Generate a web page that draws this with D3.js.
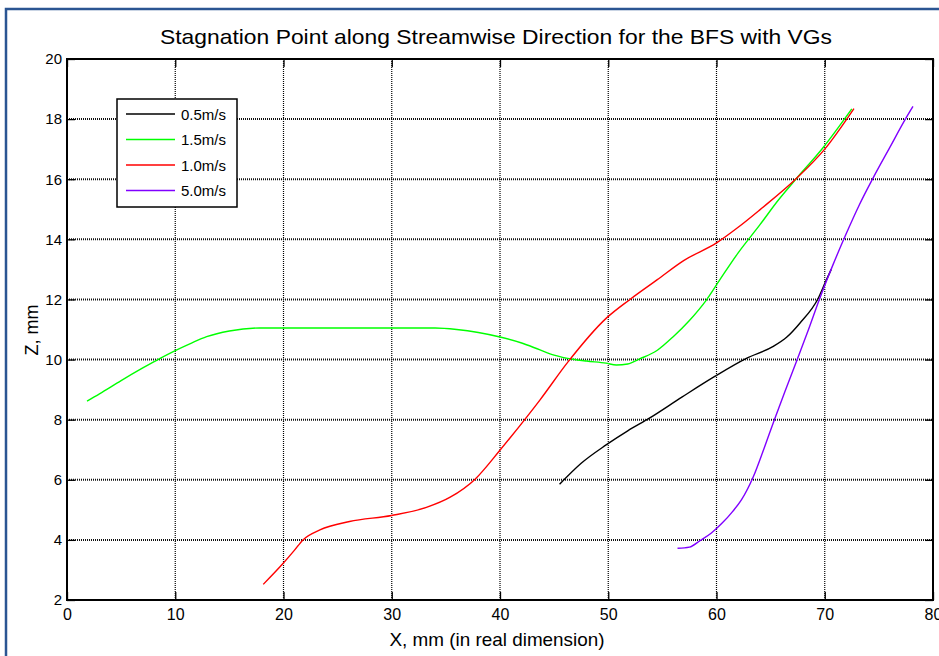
<!DOCTYPE html>
<html>
<head>
<meta charset="utf-8">
<script src="https://cdn.jsdelivr.net/npm/d3@7"></script>
<style>
  html, body { margin: 0; padding: 0; background: #fff; }
  svg { display: block; }
  text { font-family: "Liberation Sans", Arial, sans-serif; fill: #000; }
</style>
</head>
<body>
<svg id="chart" width="939" height="656"></svg>
<script>
// Stagnation point position (x, z) in mm for each free-stream speed
const seriesNames = ["0.5m/s", "1.5m/s", "1.0m/s", "5.0m/s"];
const seriesColors = ["#000000", "#00ff00", "#ff0000", "#8000ff"];

const black05 = [[45.5,5.85],[47.5,6.55],[49.8,7.16],[51.8,7.63],[53.8,8.05],[56.8,8.75],[59.8,9.43],
  [62.76,10.04],[65.2,10.43],[66.5,10.75],[67.7,11.21],[69.4,12.04],[70.15,12.65],[70.6,13.0]];

const green15 = [[1.85,8.62],[3,8.86],[5,9.3],[7,9.72],[8.6,10.04],[10,10.3],[11.5,10.55],[12.9,10.76],
  [15,10.95],[17.8,11.05],[25,11.05],[34,11.05],[36,11.0],[38,10.9],[40,10.75],[42,10.55],[43.7,10.32],
  [45,10.15],[46.75,10.01],[48,9.95],[49.8,9.88],[50.75,9.82],[51.8,9.85],[52.9,10.02],[54.5,10.3],
  [56,10.76],[57.5,11.3],[59.06,11.98],[60.3,12.65],[62,13.55],[64,14.48],[65.7,15.3],[67.4,16.03],
  [69.8,17.03],[72.5,18.34]];

const red10 = [[18.13,2.52],[19.97,3.22],[21,3.65],[21.8,4.0],[23.36,4.33],[26.1,4.61],[29.98,4.81],
  [33.2,5.08],[35.4,5.42],[37.7,6.02],[39.9,6.94],[40.9,7.38],[43.7,8.66],[46.3,9.93],[49.8,11.37],
  [52,12.0],[54.5,12.65],[57,13.3],[60,13.88],[62,14.4],[64,14.98],[67.4,16.03],[70,17.0],[72.7,18.35]];

const purple50 = [[56.4,3.72],[57.5,3.76],[58.5,3.98],[59.5,4.22],[60.5,4.55],[61.5,4.95],[62.3,5.33],
  [63.4,6.1],[64.4,7.05],[65.4,8.05],[66.5,9.1],[67.5,10.04],[68.5,11.0],[69.5,12.0],[70.7,13.1],
  [72,14.2],[73.2,15.15],[74.45,16.03],[76,17.05],[77.5,18.03],[78.15,18.42]];

const seriesData = [black05, green15, red10, purple50];

const xTicks = [0, 10, 20, 30, 40, 50, 60, 70, 80];
const yTicks = [2, 4, 6, 8, 10, 12, 14, 16, 18, 20];

const titleText = "Stagnation Point along Streamwise Direction for the BFS with VGs";
const xLabelText = "X, mm (in real dimension)";
const yLabelText = "Z, mm";

const svg = d3.select("#chart");
const W = 939, H = 656;
const m = { left: 67, top: 59, right: 6, bottom: 56 };
const pw = W - m.left - m.right, ph = H - m.top - m.bottom;

// Figure frame (top and left edges)
svg.append("path")
  .attr("d", `M6,656 L6,9 L939,9`)
  .attr("fill", "none").attr("stroke", "#2b5592").attr("stroke-width", 2.5);

const x = d3.scaleLinear().domain([0, 80]).range([m.left, m.left + pw]);
const y = d3.scaleLinear().domain([2, 20]).range([m.top + ph, m.top]);

// Dotted grid
const grid = svg.append("g");
grid.selectAll("line.vx").data(xTicks.slice(1, -1)).join("line")
  .attr("x1", d => x(d)).attr("x2", d => x(d))
  .attr("y1", y(2)).attr("y2", y(20))
  .attr("stroke", "#000").attr("stroke-width", 1.2).attr("stroke-dasharray", "1,1");
grid.selectAll("line.hy").data(yTicks.slice(1, -1)).join("line")
  .attr("x1", x(0)).attr("x2", x(80))
  .attr("y1", d => y(d)).attr("y2", d => y(d))
  .attr("stroke", "#111").attr("stroke-width", 2).attr("stroke-dasharray", "1,1");

// Axes with inward ticks on every side
const tickLen = 8;
const axB = svg.append("g").attr("transform", `translate(0,${y(2)})`)
  .call(d3.axisBottom(x).tickValues(xTicks).tickSize(-tickLen).tickPadding(9));
const axL = svg.append("g").attr("transform", `translate(${x(0)},0)`)
  .call(d3.axisLeft(y).tickValues(yTicks).tickSize(-tickLen).tickPadding(5));
const axT = svg.append("g").attr("transform", `translate(0,${y(20)})`)
  .call(d3.axisTop(x).tickValues(xTicks).tickSize(-tickLen).tickFormat(""));
const axR = svg.append("g").attr("transform", `translate(${x(80)},0)`)
  .call(d3.axisRight(y).tickValues(yTicks).tickSize(-tickLen).tickFormat(""));
[axB, axL, axT, axR].forEach(a => {
  a.select(".domain").remove();
  a.selectAll(".tick line").attr("stroke", "#000").attr("stroke-width", 1.3);
  a.selectAll(".tick text").attr("font-family", "Liberation Sans, Arial, sans-serif")
    .attr("font-size", 15).attr("fill", "#000");
});
axB.selectAll(".tick text").attr("font-size", 16);

// Data lines
const line = d3.line().x(d => x(d[0])).y(d => y(d[1])).curve(d3.curveMonotoneX);
svg.append("g").selectAll("path").data(seriesData).join("path")
  .attr("d", line)
  .attr("fill", "none")
  .attr("stroke", (d, i) => seriesColors[i])
  .attr("stroke-width", 1.4);

// Plot box
svg.append("rect")
  .attr("x", x(0)).attr("y", y(20)).attr("width", x(80) - x(0)).attr("height", y(2) - y(20))
  .attr("fill", "none").attr("stroke", "#000").attr("stroke-width", 2);

// Title and axis labels
svg.append("text").attr("x", 496).attr("y", 44).attr("text-anchor", "middle")
  .attr("font-size", 21).attr("textLength", 672).attr("lengthAdjust", "spacingAndGlyphs")
  .text(titleText);
svg.append("text").attr("x", 497).attr("y", 646).attr("text-anchor", "middle")
  .attr("font-size", 19).attr("textLength", 215).attr("lengthAdjust", "spacingAndGlyphs")
  .text(xLabelText);
svg.append("text").attr("transform", `translate(38,330) rotate(-90)`).attr("text-anchor", "middle")
  .attr("font-size", 18).text(yLabelText);

// Legend
const lg = svg.append("g");
lg.append("rect").attr("x", 117).attr("y", 99).attr("width", 120).attr("height", 108)
  .attr("fill", "#fff").attr("stroke", "#000").attr("stroke-width", 1.5);
const rows = lg.selectAll("g.row").data(seriesNames).join("g")
  .attr("transform", (d, i) => `translate(0,${114 + i * 25.5})`);
rows.append("line").attr("x1", 126).attr("x2", 175).attr("y1", 0).attr("y2", 0)
  .attr("stroke", (d, i) => seriesColors[i]).attr("stroke-width", 1.3);
rows.append("text").attr("x", 181).attr("y", 5.5).attr("font-size", 15).text(d => d);
</script>
</body>
</html>
